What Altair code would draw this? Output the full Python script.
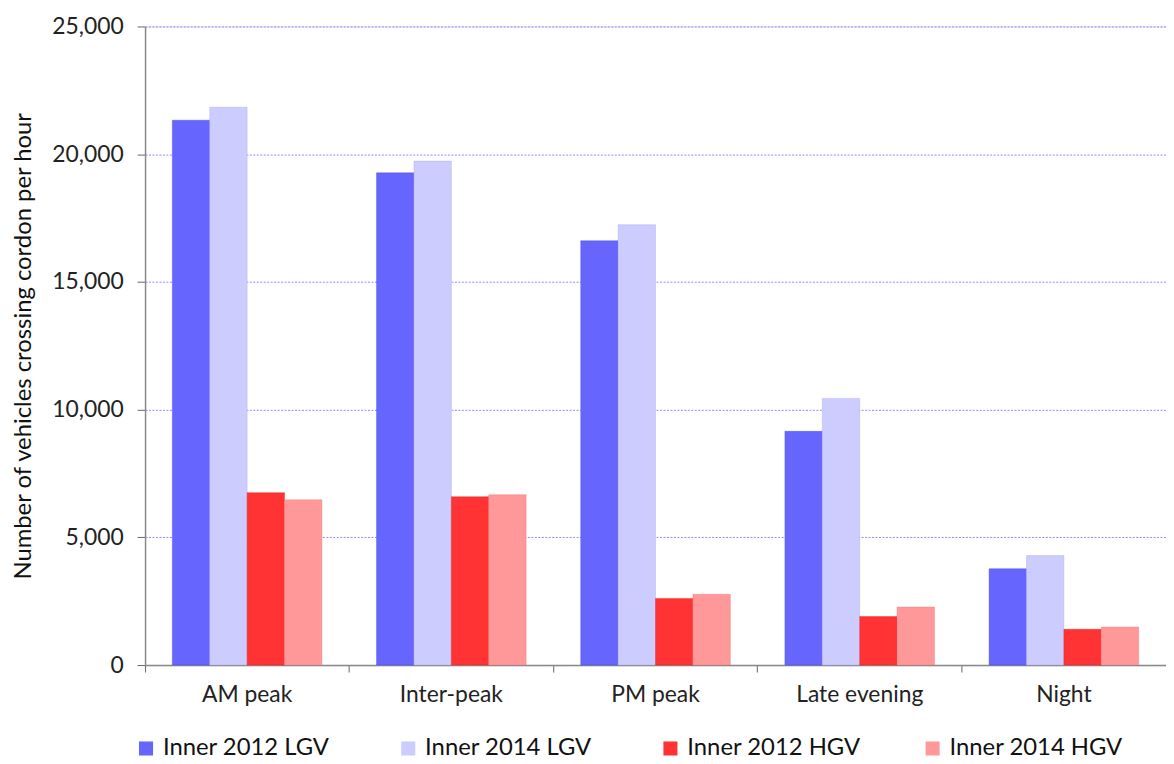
import altair as alt
import pandas as pd

periods = ["AM peak", "Inter-peak", "PM peak", "Late evening", "Night"]
series = ["Inner 2012 LGV", "Inner 2014 LGV", "Inner 2012 HGV", "Inner 2014 HGV"]
colors = ["#6666ff", "#ccccff", "#ff3333", "#ff9999"]
lgv_2012 = [21330, 19270, 16610, 9150, 3770]
lgv_2014 = [21840, 19730, 17240, 10440, 4290]
hgv_2012 = [6750, 6590, 2610, 1900, 1400]
hgv_2014 = [6470, 6670, 2770, 2270, 1490]

rows = []
for s, vals in zip(series, [lgv_2012, lgv_2014, hgv_2012, hgv_2014]):
    for p, v in zip(periods, vals):
        rows.append({"period": p, "series": s, "value": v})
df = pd.DataFrame(rows)

FONT = "Lato"

chart = alt.Chart(df).mark_bar(strokeWidth=1, strokeOpacity=0.4).encode(
    x=alt.X("period:N", sort=periods, title=None,
            scale=alt.Scale(paddingInner=0, paddingOuter=0),
            axis=alt.Axis(labelAngle=0, bandPosition=0, labelFontSize=23, labelColor="#222",
                          labelPadding=12, tickSize=7, tickColor="#666", domainColor="#888",
                          domainWidth=1.5, grid=False, labelFont=FONT)),
    xOffset=alt.XOffset("series:N", sort=series,
                        scale=alt.Scale(paddingInner=0, paddingOuter=0.73)),
    y=alt.Y("value:Q", title="Number of vehicles crossing cordon per hour",
            scale=alt.Scale(domain=[0, 25000]),
            axis=alt.Axis(values=[0, 5000, 10000, 15000, 20000, 25000], format=",.0f",
                          labelFontSize=23, labelColor="#222", labelPadding=14, tickSize=8,
                          tickColor="#666", domainColor="#888", domainWidth=1.5,
                          titleFontSize=24, titleFontWeight="normal", titleColor="#111",
                          titlePadding=16, gridColor="#9f7fff", gridDash=[2, 1.5],
                          gridWidth=1, labelFont=FONT, titleFont=FONT)),
    color=alt.Color("series:N", sort=series,
                    scale=alt.Scale(domain=series, range=colors),
                    legend=alt.Legend(title=None, orient="none", legendX=-11, legendY=715,
                                      direction="horizontal", columns=4, gridAlign="all",
                                      columnPadding=60, symbolType="square", symbolSize=200,
                                      symbolStrokeWidth=0, labelFontSize=24, labelColor="#111",
                                      labelFont=FONT, labelOffset=5, labelLimit=300)),
    stroke=alt.Color("series:N", sort=series,
                     scale=alt.Scale(domain=series, range=["#4444dd", "#aaaaee", "#dd2222", "#ee7777"]),
                     legend=None),
).properties(
    width=1028, height=643,
    autosize=alt.AutoSizeParams(type="none"),
    padding={"left": 138, "top": 16, "right": 0, "bottom": 96},
).configure_view(stroke=None).configure(font=FONT, background="white")

chart.save("out.html", embed_options={"renderer": "svg", "actions": False})
